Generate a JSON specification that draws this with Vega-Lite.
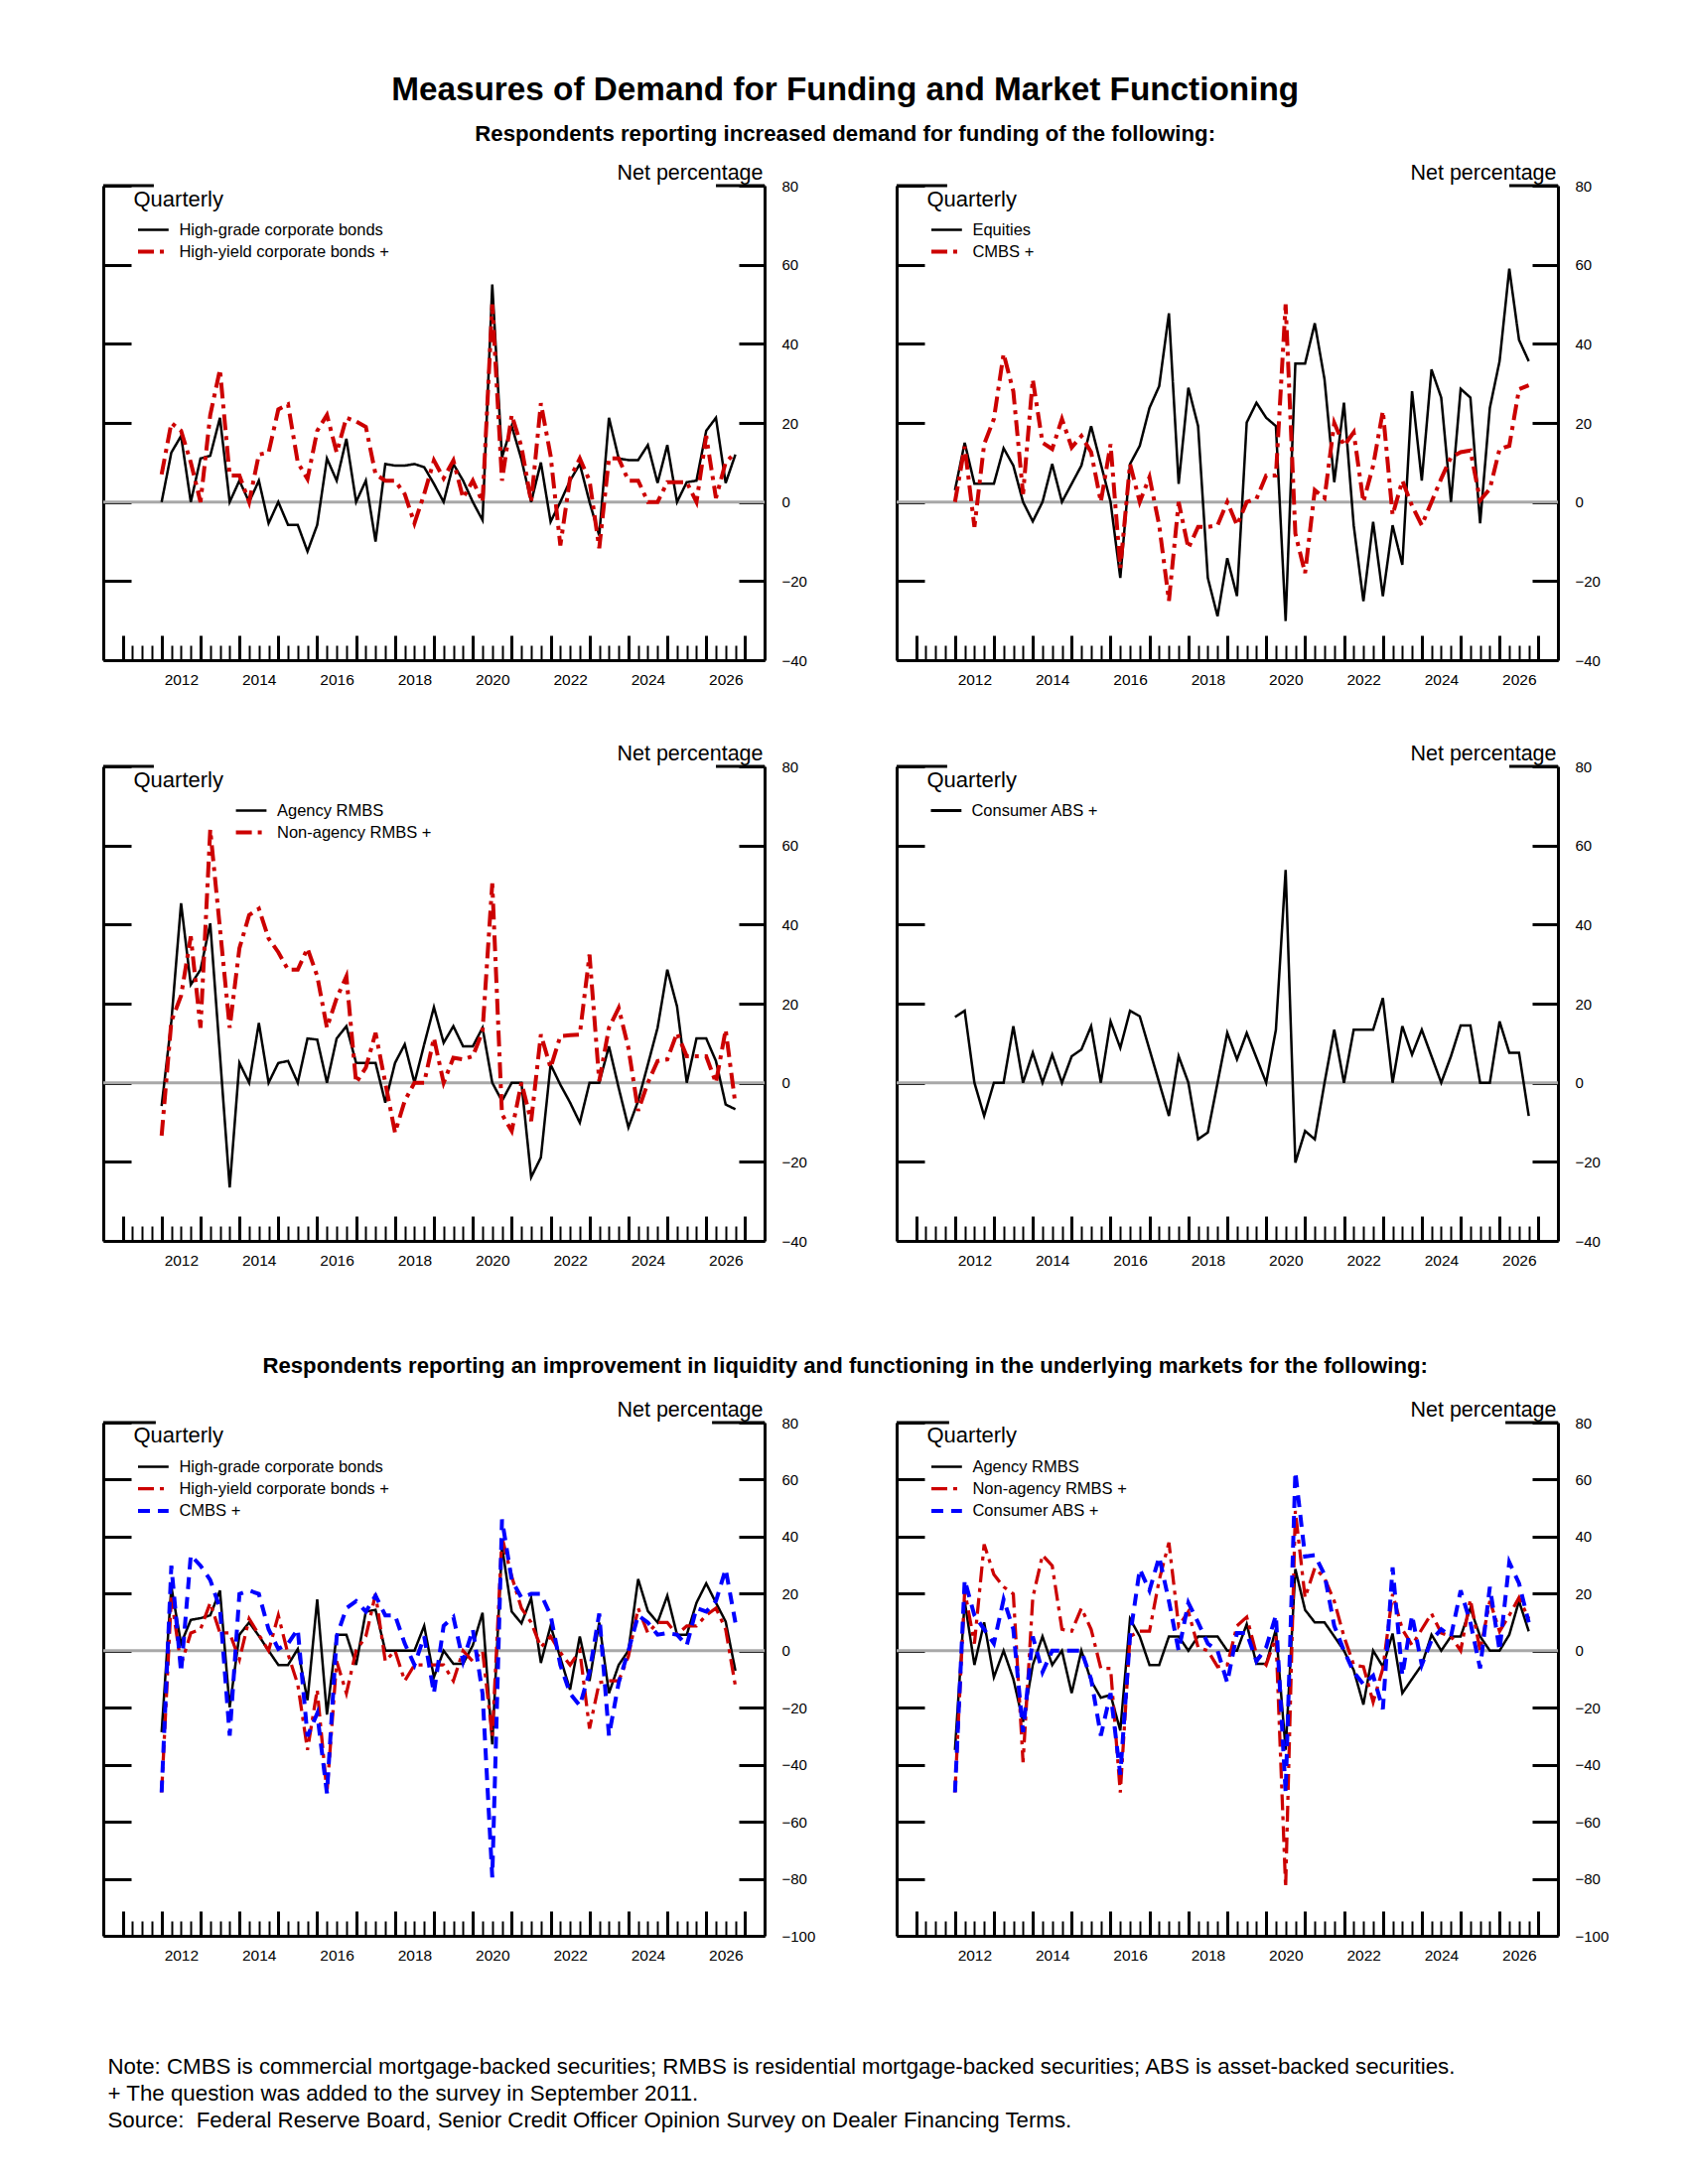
{
  "$schema": "https://vega.github.io/schema/vega-lite/v6.json",
  "background": "white",
  "padding": {"left": 102, "top": 73, "right": 20, "bottom": 20},
  "title": {
    "text": "Measures of Demand for Funding and Market Functioning",
    "subtitle": "Respondents reporting increased demand for funding of the following:",
    "fontSize": 33.3, "fontWeight": "bold", "color": "black",
    "subtitleFontSize": 22.2, "subtitleFontWeight": "bold", "subtitleColor": "black",
    "anchor": "middle", "subtitlePadding": 16, "offset": 16, "dx": -10
  },
  "datasets": {
    "a": [
      {"s":"1hg","t":2012,"v":0},{"s":"1hg","t":2012.25,"v":12.5},{"s":"1hg","t":2012.5,"v":16.7},{"s":"1hg","t":2012.75,"v":0},
      {"s":"1hg","t":2013,"v":11},{"s":"1hg","t":2013.25,"v":11.7},{"s":"1hg","t":2013.5,"v":21.3},{"s":"1hg","t":2013.75,"v":0},
      {"s":"1hg","t":2014,"v":5.4},{"s":"1hg","t":2014.25,"v":0},{"s":"1hg","t":2014.5,"v":5.4},{"s":"1hg","t":2014.75,"v":-5.4},
      {"s":"1hg","t":2015,"v":0},{"s":"1hg","t":2015.25,"v":-5.8},{"s":"1hg","t":2015.5,"v":-5.8},{"s":"1hg","t":2015.75,"v":-12.5},
      {"s":"1hg","t":2016,"v":-5.8},{"s":"1hg","t":2016.25,"v":11},{"s":"1hg","t":2016.5,"v":5.4},{"s":"1hg","t":2016.75,"v":16},
      {"s":"1hg","t":2017,"v":0},{"s":"1hg","t":2017.25,"v":5.4},{"s":"1hg","t":2017.5,"v":-10},{"s":"1hg","t":2017.75,"v":9.6},
      {"s":"1hg","t":2018,"v":9.2},{"s":"1hg","t":2018.25,"v":9.2},{"s":"1hg","t":2018.5,"v":9.6},{"s":"1hg","t":2018.75,"v":8.8},
      {"s":"1hg","t":2019,"v":4.6},{"s":"1hg","t":2019.25,"v":0},{"s":"1hg","t":2019.5,"v":9.6},{"s":"1hg","t":2019.75,"v":5.4},
      {"s":"1hg","t":2020,"v":0},{"s":"1hg","t":2020.25,"v":-4.6},{"s":"1hg","t":2020.5,"v":55},{"s":"1hg","t":2020.75,"v":11.3},
      {"s":"1hg","t":2021,"v":19.2},{"s":"1hg","t":2021.25,"v":10.8},{"s":"1hg","t":2021.5,"v":0},{"s":"1hg","t":2021.75,"v":10},
      {"s":"1hg","t":2022,"v":-5},{"s":"1hg","t":2022.25,"v":0},{"s":"1hg","t":2022.5,"v":5.4},{"s":"1hg","t":2022.75,"v":9.6},
      {"s":"1hg","t":2023,"v":0},{"s":"1hg","t":2023.25,"v":-8.5},{"s":"1hg","t":2023.5,"v":21.3},{"s":"1hg","t":2023.75,"v":11},
      {"s":"1hg","t":2024,"v":10.6},{"s":"1hg","t":2024.25,"v":10.6},{"s":"1hg","t":2024.5,"v":14.4},{"s":"1hg","t":2024.75,"v":4.8},
      {"s":"1hg","t":2025,"v":14.4},{"s":"1hg","t":2025.25,"v":0},{"s":"1hg","t":2025.5,"v":5},{"s":"1hg","t":2025.75,"v":5.4},
      {"s":"1hg","t":2026,"v":18},{"s":"1hg","t":2026.25,"v":21.3},{"s":"1hg","t":2026.5,"v":4.8},{"s":"1hg","t":2026.75,"v":12},
      {"s":"2hy","t":2012,"v":7},{"s":"2hy","t":2012.25,"v":20},{"s":"2hy","t":2012.5,"v":18},{"s":"2hy","t":2012.75,"v":10},
      {"s":"2hy","t":2013,"v":0},{"s":"2hy","t":2013.25,"v":22},{"s":"2hy","t":2013.5,"v":33.5},{"s":"2hy","t":2013.75,"v":6.7},
      {"s":"2hy","t":2014,"v":6.7},{"s":"2hy","t":2014.25,"v":0},{"s":"2hy","t":2014.5,"v":12},{"s":"2hy","t":2014.75,"v":12.5},
      {"s":"2hy","t":2015,"v":23.4},{"s":"2hy","t":2015.25,"v":24.7},{"s":"2hy","t":2015.5,"v":10},{"s":"2hy","t":2015.75,"v":5.8},
      {"s":"2hy","t":2016,"v":18},{"s":"2hy","t":2016.25,"v":22},{"s":"2hy","t":2016.5,"v":12.5},{"s":"2hy","t":2016.75,"v":21.3},
      {"s":"2hy","t":2017,"v":20.4},{"s":"2hy","t":2017.25,"v":19},{"s":"2hy","t":2017.5,"v":7},{"s":"2hy","t":2017.75,"v":5.4},
      {"s":"2hy","t":2018,"v":5.4},{"s":"2hy","t":2018.25,"v":2},{"s":"2hy","t":2018.5,"v":-5.4},{"s":"2hy","t":2018.75,"v":2},
      {"s":"2hy","t":2019,"v":10.5},{"s":"2hy","t":2019.25,"v":6},{"s":"2hy","t":2019.5,"v":10.5},{"s":"2hy","t":2019.75,"v":1},
      {"s":"2hy","t":2020,"v":5.4},{"s":"2hy","t":2020.25,"v":0},{"s":"2hy","t":2020.5,"v":50},{"s":"2hy","t":2020.75,"v":5.4},
      {"s":"2hy","t":2021,"v":22},{"s":"2hy","t":2021.25,"v":14},{"s":"2hy","t":2021.5,"v":0},{"s":"2hy","t":2021.75,"v":25},
      {"s":"2hy","t":2022,"v":11.7},{"s":"2hy","t":2022.25,"v":-11},{"s":"2hy","t":2022.5,"v":6},{"s":"2hy","t":2022.75,"v":11},
      {"s":"2hy","t":2023,"v":5.4},{"s":"2hy","t":2023.25,"v":-11.7},{"s":"2hy","t":2023.5,"v":11},{"s":"2hy","t":2023.75,"v":11},
      {"s":"2hy","t":2024,"v":5.4},{"s":"2hy","t":2024.25,"v":5.4},{"s":"2hy","t":2024.5,"v":0},{"s":"2hy","t":2024.75,"v":0},
      {"s":"2hy","t":2025,"v":5},{"s":"2hy","t":2025.25,"v":5},{"s":"2hy","t":2025.5,"v":5},{"s":"2hy","t":2025.75,"v":0},
      {"s":"2hy","t":2026,"v":16.7},{"s":"2hy","t":2026.25,"v":1},{"s":"2hy","t":2026.5,"v":10},{"s":"2hy","t":2026.75,"v":12.5}
    ],
    "b": [
      {"s":"1eq","t":2012,"v":3},{"s":"1eq","t":2012.25,"v":15},{"s":"1eq","t":2012.5,"v":4.6},{"s":"1eq","t":2012.75,"v":4.6},
      {"s":"1eq","t":2013,"v":4.6},{"s":"1eq","t":2013.25,"v":13.6},{"s":"1eq","t":2013.5,"v":9.2},{"s":"1eq","t":2013.75,"v":0},
      {"s":"1eq","t":2014,"v":-4.9},{"s":"1eq","t":2014.25,"v":0},{"s":"1eq","t":2014.5,"v":9.6},{"s":"1eq","t":2014.75,"v":0},
      {"s":"1eq","t":2015,"v":4.6},{"s":"1eq","t":2015.25,"v":9.2},{"s":"1eq","t":2015.5,"v":19.2},{"s":"1eq","t":2015.75,"v":9.6},
      {"s":"1eq","t":2016,"v":0},{"s":"1eq","t":2016.25,"v":-19.2},{"s":"1eq","t":2016.5,"v":9.6},{"s":"1eq","t":2016.75,"v":14.2},
      {"s":"1eq","t":2017,"v":23.8},{"s":"1eq","t":2017.25,"v":29.3},{"s":"1eq","t":2017.5,"v":47.7},{"s":"1eq","t":2017.75,"v":4.6},
      {"s":"1eq","t":2018,"v":28.9},{"s":"1eq","t":2018.25,"v":19.2},{"s":"1eq","t":2018.5,"v":-19.2},{"s":"1eq","t":2018.75,"v":-28.9},
      {"s":"1eq","t":2019,"v":-14.2},{"s":"1eq","t":2019.25,"v":-23.8},{"s":"1eq","t":2019.5,"v":20.1},{"s":"1eq","t":2019.75,"v":25.1},
      {"s":"1eq","t":2020,"v":21.3},{"s":"1eq","t":2020.25,"v":19.2},{"s":"1eq","t":2020.5,"v":-30.1},{"s":"1eq","t":2020.75,"v":35},
      {"s":"1eq","t":2021,"v":35},{"s":"1eq","t":2021.25,"v":45.2},{"s":"1eq","t":2021.5,"v":31},{"s":"1eq","t":2021.75,"v":5},
      {"s":"1eq","t":2022,"v":25.1},{"s":"1eq","t":2022.25,"v":-5.9},{"s":"1eq","t":2022.5,"v":-25.1},{"s":"1eq","t":2022.75,"v":-5},
      {"s":"1eq","t":2023,"v":-23.8},{"s":"1eq","t":2023.25,"v":-5.9},{"s":"1eq","t":2023.5,"v":-15.9},{"s":"1eq","t":2023.75,"v":28},
      {"s":"1eq","t":2024,"v":5.4},{"s":"1eq","t":2024.25,"v":33.5},{"s":"1eq","t":2024.5,"v":26.4},{"s":"1eq","t":2024.75,"v":0},
      {"s":"1eq","t":2025,"v":28.6},{"s":"1eq","t":2025.25,"v":26.4},{"s":"1eq","t":2025.5,"v":-5.4},{"s":"1eq","t":2025.75,"v":23.8},
      {"s":"1eq","t":2026,"v":35.6},{"s":"1eq","t":2026.25,"v":59},{"s":"1eq","t":2026.5,"v":41},{"s":"1eq","t":2026.75,"v":35.6},
      {"s":"2cm","t":2012,"v":0},{"s":"2cm","t":2012.25,"v":14},{"s":"2cm","t":2012.5,"v":-6.3},{"s":"2cm","t":2012.75,"v":14.6},
      {"s":"2cm","t":2013,"v":21},{"s":"2cm","t":2013.25,"v":37.5},{"s":"2cm","t":2013.5,"v":28},{"s":"2cm","t":2013.75,"v":2},
      {"s":"2cm","t":2014,"v":31},{"s":"2cm","t":2014.25,"v":15},{"s":"2cm","t":2014.5,"v":13.4},{"s":"2cm","t":2014.75,"v":21},
      {"s":"2cm","t":2015,"v":13.8},{"s":"2cm","t":2015.25,"v":16.7},{"s":"2cm","t":2015.5,"v":12.6},{"s":"2cm","t":2015.75,"v":0},
      {"s":"2cm","t":2016,"v":14.6},{"s":"2cm","t":2016.25,"v":-16.7},{"s":"2cm","t":2016.5,"v":9.6},{"s":"2cm","t":2016.75,"v":0},
      {"s":"2cm","t":2017,"v":6.3},{"s":"2cm","t":2017.25,"v":-5.9},{"s":"2cm","t":2017.5,"v":-25},{"s":"2cm","t":2017.75,"v":0},
      {"s":"2cm","t":2018,"v":-11.7},{"s":"2cm","t":2018.25,"v":-6.3},{"s":"2cm","t":2018.5,"v":-6.3},{"s":"2cm","t":2018.75,"v":-5.9},
      {"s":"2cm","t":2019,"v":0},{"s":"2cm","t":2019.25,"v":-5.9},{"s":"2cm","t":2019.5,"v":0},{"s":"2cm","t":2019.75,"v":0.8},
      {"s":"2cm","t":2020,"v":6.7},{"s":"2cm","t":2020.25,"v":6.7},{"s":"2cm","t":2020.5,"v":50},{"s":"2cm","t":2020.75,"v":-8},
      {"s":"2cm","t":2021,"v":-18},{"s":"2cm","t":2021.25,"v":3},{"s":"2cm","t":2021.5,"v":1},{"s":"2cm","t":2021.75,"v":20},
      {"s":"2cm","t":2022,"v":14.2},{"s":"2cm","t":2022.25,"v":17.6},{"s":"2cm","t":2022.5,"v":0},{"s":"2cm","t":2022.75,"v":9.2},
      {"s":"2cm","t":2023,"v":23},{"s":"2cm","t":2023.25,"v":-3.3},{"s":"2cm","t":2023.5,"v":5.4},{"s":"2cm","t":2023.75,"v":-1},
      {"s":"2cm","t":2024,"v":-5.9},{"s":"2cm","t":2024.25,"v":0},{"s":"2cm","t":2024.5,"v":5.9},{"s":"2cm","t":2024.75,"v":11.3},
      {"s":"2cm","t":2025,"v":12.6},{"s":"2cm","t":2025.25,"v":13},{"s":"2cm","t":2025.5,"v":0.4},{"s":"2cm","t":2025.75,"v":3.3},
      {"s":"2cm","t":2026,"v":13.4},{"s":"2cm","t":2026.25,"v":14.2},{"s":"2cm","t":2026.5,"v":28.5},{"s":"2cm","t":2026.75,"v":29.5}
    ],
    "c": [
      {"s":"1ag","t":2012,"v":-5.9},{"s":"1ag","t":2012.25,"v":15.5},{"s":"1ag","t":2012.5,"v":45.4},{"s":"1ag","t":2012.75,"v":24.8},
      {"s":"1ag","t":2013,"v":28.6},{"s":"1ag","t":2013.25,"v":40.3},{"s":"1ag","t":2013.5,"v":7},{"s":"1ag","t":2013.75,"v":-26.5},
      {"s":"1ag","t":2014,"v":5},{"s":"1ag","t":2014.25,"v":0},{"s":"1ag","t":2014.5,"v":15.1},{"s":"1ag","t":2014.75,"v":0},
      {"s":"1ag","t":2015,"v":5},{"s":"1ag","t":2015.25,"v":5.5},{"s":"1ag","t":2015.5,"v":0},{"s":"1ag","t":2015.75,"v":11.2},
      {"s":"1ag","t":2016,"v":10.9},{"s":"1ag","t":2016.25,"v":0},{"s":"1ag","t":2016.5,"v":11.2},{"s":"1ag","t":2016.75,"v":14.3},
      {"s":"1ag","t":2017,"v":5},{"s":"1ag","t":2017.25,"v":5},{"s":"1ag","t":2017.5,"v":5},{"s":"1ag","t":2017.75,"v":-5},
      {"s":"1ag","t":2018,"v":5},{"s":"1ag","t":2018.25,"v":9.7},{"s":"1ag","t":2018.5,"v":0},{"s":"1ag","t":2018.75,"v":9.7},
      {"s":"1ag","t":2019,"v":19.1},{"s":"1ag","t":2019.25,"v":10.1},{"s":"1ag","t":2019.5,"v":14.3},{"s":"1ag","t":2019.75,"v":9.2},
      {"s":"1ag","t":2020,"v":9.2},{"s":"1ag","t":2020.25,"v":13.9},{"s":"1ag","t":2020.5,"v":0},{"s":"1ag","t":2020.75,"v":-4.6},
      {"s":"1ag","t":2021,"v":0},{"s":"1ag","t":2021.25,"v":0},{"s":"1ag","t":2021.5,"v":-23.9},{"s":"1ag","t":2021.75,"v":-18.9},
      {"s":"1ag","t":2022,"v":4.6},{"s":"1ag","t":2022.25,"v":-0.5},{"s":"1ag","t":2022.5,"v":-5},{"s":"1ag","t":2022.75,"v":-10.1},
      {"s":"1ag","t":2023,"v":0},{"s":"1ag","t":2023.25,"v":0},{"s":"1ag","t":2023.5,"v":9.2},{"s":"1ag","t":2023.75,"v":-1.3},
      {"s":"1ag","t":2024,"v":-11.3},{"s":"1ag","t":2024.25,"v":-4.6},{"s":"1ag","t":2024.5,"v":4.6},{"s":"1ag","t":2024.75,"v":13.9},
      {"s":"1ag","t":2025,"v":28.6},{"s":"1ag","t":2025.25,"v":19.3},{"s":"1ag","t":2025.5,"v":0},{"s":"1ag","t":2025.75,"v":11.2},
      {"s":"1ag","t":2026,"v":11.2},{"s":"1ag","t":2026.25,"v":5.5},{"s":"1ag","t":2026.5,"v":-5.5},{"s":"1ag","t":2026.75,"v":-6.7},
      {"s":"2na","t":2012,"v":-13.4},{"s":"2na","t":2012.25,"v":15.5},{"s":"2na","t":2012.5,"v":22},{"s":"2na","t":2012.75,"v":37},
      {"s":"2na","t":2013,"v":13.9},{"s":"2na","t":2013.25,"v":64},{"s":"2na","t":2013.5,"v":39},{"s":"2na","t":2013.75,"v":13.9},
      {"s":"2na","t":2014,"v":34},{"s":"2na","t":2014.25,"v":42.4},{"s":"2na","t":2014.5,"v":44},{"s":"2na","t":2014.75,"v":36.5},
      {"s":"2na","t":2015,"v":33},{"s":"2na","t":2015.25,"v":28.6},{"s":"2na","t":2015.5,"v":28.6},{"s":"2na","t":2015.75,"v":34},
      {"s":"2na","t":2016,"v":27},{"s":"2na","t":2016.25,"v":13.9},{"s":"2na","t":2016.5,"v":21.4},{"s":"2na","t":2016.75,"v":26.9},
      {"s":"2na","t":2017,"v":0},{"s":"2na","t":2017.25,"v":3.8},{"s":"2na","t":2017.5,"v":12.6},{"s":"2na","t":2017.75,"v":0},
      {"s":"2na","t":2018,"v":-12.6},{"s":"2na","t":2018.25,"v":-4.6},{"s":"2na","t":2018.5,"v":0},{"s":"2na","t":2018.75,"v":0},
      {"s":"2na","t":2019,"v":11.3},{"s":"2na","t":2019.25,"v":0},{"s":"2na","t":2019.5,"v":6.3},{"s":"2na","t":2019.75,"v":5.9},
      {"s":"2na","t":2020,"v":6.7},{"s":"2na","t":2020.25,"v":13},{"s":"2na","t":2020.5,"v":50.4},{"s":"2na","t":2020.75,"v":-8},
      {"s":"2na","t":2021,"v":-12.2},{"s":"2na","t":2021.25,"v":0},{"s":"2na","t":2021.5,"v":-9.7},{"s":"2na","t":2021.75,"v":12.2},
      {"s":"2na","t":2022,"v":3.8},{"s":"2na","t":2022.25,"v":11.8},{"s":"2na","t":2022.5,"v":12},{"s":"2na","t":2022.75,"v":12.2},
      {"s":"2na","t":2023,"v":32.4},{"s":"2na","t":2023.25,"v":0.4},{"s":"2na","t":2023.5,"v":13.9},{"s":"2na","t":2023.75,"v":18.9},
      {"s":"2na","t":2024,"v":8.8},{"s":"2na","t":2024.25,"v":-7.1},{"s":"2na","t":2024.5,"v":0},{"s":"2na","t":2024.75,"v":5.5},
      {"s":"2na","t":2025,"v":5.9},{"s":"2na","t":2025.25,"v":12.6},{"s":"2na","t":2025.5,"v":6.7},{"s":"2na","t":2025.75,"v":6.7},
      {"s":"2na","t":2026,"v":6.7},{"s":"2na","t":2026.25,"v":0},{"s":"2na","t":2026.5,"v":13.4},{"s":"2na","t":2026.75,"v":-5.5}
    ],
    "d": [
      {"s":"1ab","t":2012,"v":16.6},{"s":"1ab","t":2012.25,"v":18.2},{"s":"1ab","t":2012.5,"v":0},{"s":"1ab","t":2012.75,"v":-8.4},
      {"s":"1ab","t":2013,"v":0},{"s":"1ab","t":2013.25,"v":0},{"s":"1ab","t":2013.5,"v":14.3},{"s":"1ab","t":2013.75,"v":0},
      {"s":"1ab","t":2014,"v":7.6},{"s":"1ab","t":2014.25,"v":0},{"s":"1ab","t":2014.5,"v":7.1},{"s":"1ab","t":2014.75,"v":0},
      {"s":"1ab","t":2015,"v":6.7},{"s":"1ab","t":2015.25,"v":8.4},{"s":"1ab","t":2015.5,"v":14.3},{"s":"1ab","t":2015.75,"v":0},
      {"s":"1ab","t":2016,"v":15.5},{"s":"1ab","t":2016.25,"v":8.8},{"s":"1ab","t":2016.5,"v":18.2},{"s":"1ab","t":2016.75,"v":16.8},
      {"s":"1ab","t":2017,"v":8.4},{"s":"1ab","t":2017.25,"v":0},{"s":"1ab","t":2017.5,"v":-8.4},{"s":"1ab","t":2017.75,"v":6.7},
      {"s":"1ab","t":2018,"v":0},{"s":"1ab","t":2018.25,"v":-14.3},{"s":"1ab","t":2018.5,"v":-12.6},{"s":"1ab","t":2018.75,"v":0},
      {"s":"1ab","t":2019,"v":12.6},{"s":"1ab","t":2019.25,"v":5.9},{"s":"1ab","t":2019.5,"v":12.6},{"s":"1ab","t":2019.75,"v":6.3},
      {"s":"1ab","t":2020,"v":0},{"s":"1ab","t":2020.25,"v":13.4},{"s":"1ab","t":2020.5,"v":53.8},{"s":"1ab","t":2020.75,"v":-20.2},
      {"s":"1ab","t":2021,"v":-12.2},{"s":"1ab","t":2021.25,"v":-14.3},{"s":"1ab","t":2021.5,"v":0},{"s":"1ab","t":2021.75,"v":13.4},
      {"s":"1ab","t":2022,"v":0},{"s":"1ab","t":2022.25,"v":13.4},{"s":"1ab","t":2022.5,"v":13.4},{"s":"1ab","t":2022.75,"v":13.4},
      {"s":"1ab","t":2023,"v":21.4},{"s":"1ab","t":2023.25,"v":0},{"s":"1ab","t":2023.5,"v":14.3},{"s":"1ab","t":2023.75,"v":7.1},
      {"s":"1ab","t":2024,"v":13.4},{"s":"1ab","t":2024.25,"v":6.7},{"s":"1ab","t":2024.5,"v":0},{"s":"1ab","t":2024.75,"v":6.7},
      {"s":"1ab","t":2025,"v":14.5},{"s":"1ab","t":2025.25,"v":14.5},{"s":"1ab","t":2025.5,"v":0},{"s":"1ab","t":2025.75,"v":0},
      {"s":"1ab","t":2026,"v":15.5},{"s":"1ab","t":2026.25,"v":7.6},{"s":"1ab","t":2026.5,"v":7.6},{"s":"1ab","t":2026.75,"v":-8.4}
    ],
    "e": [
      {"s":"1hg","t":2012,"v":-28.6},{"s":"1hg","t":2012.25,"v":22.4},{"s":"1hg","t":2012.5,"v":2.5},{"s":"1hg","t":2012.75,"v":10.8},
      {"s":"1hg","t":2013,"v":11.4},{"s":"1hg","t":2013.25,"v":12.4},{"s":"1hg","t":2013.5,"v":21.1},{"s":"1hg","t":2013.75,"v":-19.9},
      {"s":"1hg","t":2014,"v":5.6},{"s":"1hg","t":2014.25,"v":9.9},{"s":"1hg","t":2014.5,"v":5.2},{"s":"1hg","t":2014.75,"v":0},
      {"s":"1hg","t":2015,"v":-5},{"s":"1hg","t":2015.25,"v":-5},{"s":"1hg","t":2015.5,"v":0.6},{"s":"1hg","t":2015.75,"v":-17.4},
      {"s":"1hg","t":2016,"v":18},{"s":"1hg","t":2016.25,"v":-22.4},{"s":"1hg","t":2016.5,"v":5.6},{"s":"1hg","t":2016.75,"v":5.6},
      {"s":"1hg","t":2017,"v":-5},{"s":"1hg","t":2017.25,"v":13.7},{"s":"1hg","t":2017.5,"v":14.3},{"s":"1hg","t":2017.75,"v":0},
      {"s":"1hg","t":2018,"v":0},{"s":"1hg","t":2018.25,"v":0},{"s":"1hg","t":2018.5,"v":0},{"s":"1hg","t":2018.75,"v":8.7},
      {"s":"1hg","t":2019,"v":-9.3},{"s":"1hg","t":2019.25,"v":0},{"s":"1hg","t":2019.5,"v":-4.6},{"s":"1hg","t":2019.75,"v":-4.6},
      {"s":"1hg","t":2020,"v":1.9},{"s":"1hg","t":2020.25,"v":13.3},{"s":"1hg","t":2020.5,"v":-32.9},{"s":"1hg","t":2020.75,"v":36.6},
      {"s":"1hg","t":2021,"v":13.7},{"s":"1hg","t":2021.25,"v":9.6},{"s":"1hg","t":2021.5,"v":18.4},{"s":"1hg","t":2021.75,"v":-4.3},
      {"s":"1hg","t":2022,"v":8.7},{"s":"1hg","t":2022.25,"v":-2.5},{"s":"1hg","t":2022.5,"v":-13.7},{"s":"1hg","t":2022.75,"v":5},
      {"s":"1hg","t":2023,"v":-10.6},{"s":"1hg","t":2023.25,"v":9.9},{"s":"1hg","t":2023.5,"v":-14.9},{"s":"1hg","t":2023.75,"v":-5},
      {"s":"1hg","t":2024,"v":0},{"s":"1hg","t":2024.25,"v":25.1},{"s":"1hg","t":2024.5,"v":13.9},{"s":"1hg","t":2024.75,"v":9.9},
      {"s":"1hg","t":2025,"v":19.3},{"s":"1hg","t":2025.25,"v":5.6},{"s":"1hg","t":2025.5,"v":5.6},{"s":"1hg","t":2025.75,"v":16.8},
      {"s":"1hg","t":2026,"v":23.6},{"s":"1hg","t":2026.25,"v":16.8},{"s":"1hg","t":2026.5,"v":10.2},{"s":"1hg","t":2026.75,"v":-7},
      {"s":"2hy","t":2012,"v":-49.7},{"s":"2hy","t":2012.25,"v":18.6},{"s":"2hy","t":2012.5,"v":-5},{"s":"2hy","t":2012.75,"v":6.2},
      {"s":"2hy","t":2013,"v":7.5},{"s":"2hy","t":2013.25,"v":16.8},{"s":"2hy","t":2013.5,"v":6.2},{"s":"2hy","t":2013.75,"v":6.2},
      {"s":"2hy","t":2014,"v":-3.1},{"s":"2hy","t":2014.25,"v":11.2},{"s":"2hy","t":2014.5,"v":5.6},{"s":"2hy","t":2014.75,"v":0},
      {"s":"2hy","t":2015,"v":12.4},{"s":"2hy","t":2015.25,"v":-1.2},{"s":"2hy","t":2015.5,"v":-11.8},{"s":"2hy","t":2015.75,"v":-34.8},
      {"s":"2hy","t":2016,"v":-13.7},{"s":"2hy","t":2016.25,"v":-49.7},{"s":"2hy","t":2016.5,"v":-3.7},{"s":"2hy","t":2016.75,"v":-14.9},
      {"s":"2hy","t":2017,"v":0},{"s":"2hy","t":2017.25,"v":5},{"s":"2hy","t":2017.5,"v":19.9},{"s":"2hy","t":2017.75,"v":-3.7},
      {"s":"2hy","t":2018,"v":0},{"s":"2hy","t":2018.25,"v":-10.6},{"s":"2hy","t":2018.5,"v":-5},{"s":"2hy","t":2018.75,"v":-5},
      {"s":"2hy","t":2019,"v":-5},{"s":"2hy","t":2019.25,"v":-5},{"s":"2hy","t":2019.5,"v":-10.6},{"s":"2hy","t":2019.75,"v":0},
      {"s":"2hy","t":2020,"v":-3.7},{"s":"2hy","t":2020.25,"v":0},{"s":"2hy","t":2020.5,"v":-30},{"s":"2hy","t":2020.75,"v":39.8},
      {"s":"2hy","t":2021,"v":26},{"s":"2hy","t":2021.25,"v":14.9},{"s":"2hy","t":2021.5,"v":9.9},{"s":"2hy","t":2021.75,"v":1.2},
      {"s":"2hy","t":2022,"v":5},{"s":"2hy","t":2022.25,"v":-0.6},{"s":"2hy","t":2022.5,"v":-5},{"s":"2hy","t":2022.75,"v":0},
      {"s":"2hy","t":2023,"v":-27.3},{"s":"2hy","t":2023.25,"v":-11.2},{"s":"2hy","t":2023.5,"v":-10.6},{"s":"2hy","t":2023.75,"v":-10.6},
      {"s":"2hy","t":2024,"v":-2},{"s":"2hy","t":2024.25,"v":14.9},{"s":"2hy","t":2024.5,"v":6.2},{"s":"2hy","t":2024.75,"v":9.9},
      {"s":"2hy","t":2025,"v":9.9},{"s":"2hy","t":2025.25,"v":5.6},{"s":"2hy","t":2025.5,"v":8.7},{"s":"2hy","t":2025.75,"v":8.7},
      {"s":"2hy","t":2026,"v":12.4},{"s":"2hy","t":2026.25,"v":14.9},{"s":"2hy","t":2026.5,"v":7.5},{"s":"2hy","t":2026.75,"v":-12.4},
      {"s":"3cm","t":2012,"v":-49.7},{"s":"3cm","t":2012.25,"v":29.8},{"s":"3cm","t":2012.5,"v":-7.5},{"s":"3cm","t":2012.75,"v":33.5},
      {"s":"3cm","t":2013,"v":29.8},{"s":"3cm","t":2013.25,"v":24.8},{"s":"3cm","t":2013.5,"v":14.9},{"s":"3cm","t":2013.75,"v":-29.8},
      {"s":"3cm","t":2014,"v":19.9},{"s":"3cm","t":2014.25,"v":21.1},{"s":"3cm","t":2014.5,"v":19.9},{"s":"3cm","t":2014.75,"v":7.5},
      {"s":"3cm","t":2015,"v":0.6},{"s":"3cm","t":2015.25,"v":2.5},{"s":"3cm","t":2015.5,"v":7.5},{"s":"3cm","t":2015.75,"v":-30},
      {"s":"3cm","t":2016,"v":-22},{"s":"3cm","t":2016.25,"v":-50},{"s":"3cm","t":2016.5,"v":5},{"s":"3cm","t":2016.75,"v":14.9},
      {"s":"3cm","t":2017,"v":17.4},{"s":"3cm","t":2017.25,"v":13.7},{"s":"3cm","t":2017.5,"v":19.3},{"s":"3cm","t":2017.75,"v":12.4},
      {"s":"3cm","t":2018,"v":12.4},{"s":"3cm","t":2018.25,"v":2.5},{"s":"3cm","t":2018.5,"v":-5},{"s":"3cm","t":2018.75,"v":5},
      {"s":"3cm","t":2019,"v":-14.9},{"s":"3cm","t":2019.25,"v":8.7},{"s":"3cm","t":2019.5,"v":11.8},{"s":"3cm","t":2019.75,"v":-3.7},
      {"s":"3cm","t":2020,"v":7.5},{"s":"3cm","t":2020.25,"v":-15},{"s":"3cm","t":2020.5,"v":-79.5},{"s":"3cm","t":2020.75,"v":46},
      {"s":"3cm","t":2021,"v":24.8},{"s":"3cm","t":2021.25,"v":18.6},{"s":"3cm","t":2021.5,"v":19.9},{"s":"3cm","t":2021.75,"v":19.9},
      {"s":"3cm","t":2022,"v":12.4},{"s":"3cm","t":2022.25,"v":-5},{"s":"3cm","t":2022.5,"v":-15},{"s":"3cm","t":2022.75,"v":-19.3},
      {"s":"3cm","t":2023,"v":-7.5},{"s":"3cm","t":2023.25,"v":13},{"s":"3cm","t":2023.5,"v":-29.8},{"s":"3cm","t":2023.75,"v":-11.2},
      {"s":"3cm","t":2024,"v":0},{"s":"3cm","t":2024.25,"v":12.4},{"s":"3cm","t":2024.5,"v":9.9},{"s":"3cm","t":2024.75,"v":5.6},
      {"s":"3cm","t":2025,"v":6.2},{"s":"3cm","t":2025.25,"v":5.6},{"s":"3cm","t":2025.5,"v":1.9},{"s":"3cm","t":2025.75,"v":14.9},
      {"s":"3cm","t":2026,"v":13.7},{"s":"3cm","t":2026.25,"v":17.4},{"s":"3cm","t":2026.5,"v":28.6},{"s":"3cm","t":2026.75,"v":9.9}
    ],
    "f": [
      {"s":"1ag","t":2012,"v":-34.8},{"s":"1ag","t":2012.25,"v":17.4},{"s":"1ag","t":2012.5,"v":-5},{"s":"1ag","t":2012.75,"v":9.9},
      {"s":"1ag","t":2013,"v":-9.3},{"s":"1ag","t":2013.25,"v":0},{"s":"1ag","t":2013.5,"v":-9.9},{"s":"1ag","t":2013.75,"v":-25},
      {"s":"1ag","t":2014,"v":-5},{"s":"1ag","t":2014.25,"v":5},{"s":"1ag","t":2014.5,"v":-5},{"s":"1ag","t":2014.75,"v":0},
      {"s":"1ag","t":2015,"v":-14.9},{"s":"1ag","t":2015.25,"v":0},{"s":"1ag","t":2015.5,"v":-10.6},{"s":"1ag","t":2015.75,"v":-16.5},
      {"s":"1ag","t":2016,"v":-15.5},{"s":"1ag","t":2016.25,"v":-28},{"s":"1ag","t":2016.5,"v":11.2},{"s":"1ag","t":2016.75,"v":5},
      {"s":"1ag","t":2017,"v":-5},{"s":"1ag","t":2017.25,"v":-5},{"s":"1ag","t":2017.5,"v":5},{"s":"1ag","t":2017.75,"v":5},
      {"s":"1ag","t":2018,"v":0},{"s":"1ag","t":2018.25,"v":5},{"s":"1ag","t":2018.5,"v":5},{"s":"1ag","t":2018.75,"v":5},
      {"s":"1ag","t":2019,"v":0},{"s":"1ag","t":2019.25,"v":0},{"s":"1ag","t":2019.5,"v":9.3},{"s":"1ag","t":2019.75,"v":-4.6},
      {"s":"1ag","t":2020,"v":-4.6},{"s":"1ag","t":2020.25,"v":7.5},{"s":"1ag","t":2020.5,"v":-34.8},{"s":"1ag","t":2020.75,"v":28.6},
      {"s":"1ag","t":2021,"v":14.3},{"s":"1ag","t":2021.25,"v":9.9},{"s":"1ag","t":2021.5,"v":9.9},{"s":"1ag","t":2021.75,"v":5},
      {"s":"1ag","t":2022,"v":0},{"s":"1ag","t":2022.25,"v":-6.8},{"s":"1ag","t":2022.5,"v":-18.9},{"s":"1ag","t":2022.75,"v":0},
      {"s":"1ag","t":2023,"v":-5.6},{"s":"1ag","t":2023.25,"v":6},{"s":"1ag","t":2023.5,"v":-14.9},{"s":"1ag","t":2023.75,"v":-9.9},
      {"s":"1ag","t":2024,"v":-5},{"s":"1ag","t":2024.25,"v":5.6},{"s":"1ag","t":2024.5,"v":0},{"s":"1ag","t":2024.75,"v":5},
      {"s":"1ag","t":2025,"v":5},{"s":"1ag","t":2025.25,"v":14.9},{"s":"1ag","t":2025.5,"v":5},{"s":"1ag","t":2025.75,"v":0},
      {"s":"1ag","t":2026,"v":0},{"s":"1ag","t":2026.25,"v":5.6},{"s":"1ag","t":2026.5,"v":17.4},{"s":"1ag","t":2026.75,"v":6.8},
      {"s":"2na","t":2012,"v":-49.7},{"s":"2na","t":2012.25,"v":21.1},{"s":"2na","t":2012.5,"v":2.5},{"s":"2na","t":2012.75,"v":37.3},
      {"s":"2na","t":2013,"v":26.7},{"s":"2na","t":2013.25,"v":22.4},{"s":"2na","t":2013.5,"v":19.9},{"s":"2na","t":2013.75,"v":-39.1},
      {"s":"2na","t":2014,"v":18.6},{"s":"2na","t":2014.25,"v":33.5},{"s":"2na","t":2014.5,"v":29.8},{"s":"2na","t":2014.75,"v":7.5},
      {"s":"2na","t":2015,"v":6.8},{"s":"2na","t":2015.25,"v":14.9},{"s":"2na","t":2015.5,"v":7.5},{"s":"2na","t":2015.75,"v":-6.2},
      {"s":"2na","t":2016,"v":-6.2},{"s":"2na","t":2016.25,"v":-49.7},{"s":"2na","t":2016.5,"v":5},{"s":"2na","t":2016.75,"v":6.8},
      {"s":"2na","t":2017,"v":6.8},{"s":"2na","t":2017.25,"v":24.8},{"s":"2na","t":2017.5,"v":37.9},{"s":"2na","t":2017.75,"v":8.7},
      {"s":"2na","t":2018,"v":13.7},{"s":"2na","t":2018.25,"v":1.2},{"s":"2na","t":2018.5,"v":0},{"s":"2na","t":2018.75,"v":-5.6},
      {"s":"2na","t":2019,"v":-5},{"s":"2na","t":2019.25,"v":8.7},{"s":"2na","t":2019.5,"v":11.8},{"s":"2na","t":2019.75,"v":-1.2},
      {"s":"2na","t":2020,"v":-5},{"s":"2na","t":2020.25,"v":5},{"s":"2na","t":2020.5,"v":-83},{"s":"2na","t":2020.75,"v":49},
      {"s":"2na","t":2021,"v":18.6},{"s":"2na","t":2021.25,"v":29},{"s":"2na","t":2021.5,"v":25.5},{"s":"2na","t":2021.75,"v":17.4},
      {"s":"2na","t":2022,"v":5},{"s":"2na","t":2022.25,"v":-5},{"s":"2na","t":2022.5,"v":-5.6},{"s":"2na","t":2022.75,"v":-18},
      {"s":"2na","t":2023,"v":-6.2},{"s":"2na","t":2023.25,"v":19.9},{"s":"2na","t":2023.5,"v":7.5},{"s":"2na","t":2023.75,"v":1.9},
      {"s":"2na","t":2024,"v":7.5},{"s":"2na","t":2024.25,"v":13},{"s":"2na","t":2024.5,"v":6.2},{"s":"2na","t":2024.75,"v":5},
      {"s":"2na","t":2025,"v":0},{"s":"2na","t":2025.25,"v":18},{"s":"2na","t":2025.5,"v":0},{"s":"2na","t":2025.75,"v":17.4},
      {"s":"2na","t":2026,"v":6.8},{"s":"2na","t":2026.25,"v":12.4},{"s":"2na","t":2026.5,"v":18.6},{"s":"2na","t":2026.75,"v":11.2},
      {"s":"3ab","t":2012,"v":-49.7},{"s":"3ab","t":2012.25,"v":24.8},{"s":"3ab","t":2012.5,"v":12.4},{"s":"3ab","t":2012.75,"v":7.5},
      {"s":"3ab","t":2013,"v":2.5},{"s":"3ab","t":2013.25,"v":18},{"s":"3ab","t":2013.5,"v":7.5},{"s":"3ab","t":2013.75,"v":-28.6},
      {"s":"3ab","t":2014,"v":5},{"s":"3ab","t":2014.25,"v":-7.5},{"s":"3ab","t":2014.5,"v":0},{"s":"3ab","t":2014.75,"v":0},
      {"s":"3ab","t":2015,"v":0},{"s":"3ab","t":2015.25,"v":0},{"s":"3ab","t":2015.5,"v":-10},{"s":"3ab","t":2015.75,"v":-29.8},
      {"s":"3ab","t":2016,"v":-14.9},{"s":"3ab","t":2016.25,"v":-43.5},{"s":"3ab","t":2016.5,"v":5},{"s":"3ab","t":2016.75,"v":28.6},
      {"s":"3ab","t":2017,"v":21.1},{"s":"3ab","t":2017.25,"v":32.9},{"s":"3ab","t":2017.5,"v":17.4},{"s":"3ab","t":2017.75,"v":0},
      {"s":"3ab","t":2018,"v":16.8},{"s":"3ab","t":2018.25,"v":9.9},{"s":"3ab","t":2018.5,"v":2.5},{"s":"3ab","t":2018.75,"v":0},
      {"s":"3ab","t":2019,"v":-11.2},{"s":"3ab","t":2019.25,"v":6.2},{"s":"3ab","t":2019.5,"v":6.2},{"s":"3ab","t":2019.75,"v":-3.7},
      {"s":"3ab","t":2020,"v":1.2},{"s":"3ab","t":2020.25,"v":12.4},{"s":"3ab","t":2020.5,"v":-49.7},{"s":"3ab","t":2020.75,"v":62.7},
      {"s":"3ab","t":2021,"v":33},{"s":"3ab","t":2021.25,"v":33.5},{"s":"3ab","t":2021.5,"v":26.7},{"s":"3ab","t":2021.75,"v":8.7},
      {"s":"3ab","t":2022,"v":0},{"s":"3ab","t":2022.25,"v":-7.5},{"s":"3ab","t":2022.5,"v":-11.8},{"s":"3ab","t":2022.75,"v":-8.7},
      {"s":"3ab","t":2023,"v":-20.5},{"s":"3ab","t":2023.25,"v":29.2},{"s":"3ab","t":2023.5,"v":-8.7},{"s":"3ab","t":2023.75,"v":12.4},
      {"s":"3ab","t":2024,"v":-5},{"s":"3ab","t":2024.25,"v":3.7},{"s":"3ab","t":2024.5,"v":7.5},{"s":"3ab","t":2024.75,"v":5},
      {"s":"3ab","t":2025,"v":21.1},{"s":"3ab","t":2025.25,"v":9.9},{"s":"3ab","t":2025.5,"v":-6.2},{"s":"3ab","t":2025.75,"v":22.4},
      {"s":"3ab","t":2026,"v":0},{"s":"3ab","t":2026.25,"v":31},{"s":"3ab","t":2026.5,"v":23.6},{"s":"3ab","t":2026.75,"v":9.9}
    ]
  },
  "vconcat": [
    {
      "vconcat": [
        {
          "hconcat": [
            {
              "width": 666, "height": 478,
              "layer": [
                {"data": {"values": [{}]}, "mark": {"type": "rule", "color": "#a8a8a8", "strokeWidth": 3},
                 "encoding": {"y": {"datum": 0, "type": "quantitative", "scale": {"domain": [-40, 80], "nice": false, "zero": false},
                   "axis": {"orient": "left", "values": [-40, -20, 0, 20, 40, 60, 80], "tickSize": -28, "labels": false, "title": "Quarterly", "titleAngle": 0, "titleAlign": "left", "titleBaseline": "alphabetic", "titleX": 30, "titleY": 20, "titleFontSize": 22}}}},
                {"data": {"values": [{}]}, "mark": {"type": "rule", "color": "black", "strokeWidth": 3},
                 "encoding": {"x": {"datum": 2010.5, "type": "quantitative", "scale": {"domain": [2010.5, 2027.5], "nice": false, "zero": false},
                   "axis": {"orient": "bottom", "values": [2011,2011.25,2011.5,2011.75,2012,2012.25,2012.5,2012.75,2013,2013.25,2013.5,2013.75,2014,2014.25,2014.5,2014.75,2015,2015.25,2015.5,2015.75,2016,2016.25,2016.5,2016.75,2017,2017.25,2017.5,2017.75,2018,2018.25,2018.5,2018.75,2019,2019.25,2019.5,2019.75,2020,2020.25,2020.5,2020.75,2021,2021.25,2021.5,2021.75,2022,2022.25,2022.5,2022.75,2023,2023.25,2023.5,2023.75,2024,2024.25,2024.5,2024.75,2025,2025.25,2025.5,2025.75,2026,2026.25,2026.5,2026.75,2027], "tickSize": -15, "tickWidth": 2, "labels": false, "domain": false, "title": null}},
                   "x2": {"datum": 2011.8}, "y": {"datum": 80, "type": "quantitative", "axis": null}}},
                {"data": {"values": [{}]}, "mark": {"type": "rule", "color": "black", "strokeWidth": 3},
                 "encoding": {"x": {"datum": 2026.25, "type": "quantitative", "axis": null}, "x2": {"datum": 2027.5}, "y": {"datum": 80, "type": "quantitative", "axis": null}}},
                {"data": {"name": "a"}, "mark": {"type": "line", "strokeCap": "butt"},
                 "encoding": {
                   "x": {"field": "t", "type": "quantitative", "scale": {"domain": [2010.5, 2027.5], "nice": false, "zero": false},
                     "axis": {"orient": "bottom", "values": [2011,2012,2013,2014,2015,2016,2017,2018,2019,2020,2021,2022,2023,2024,2025,2026,2027], "tickSize": -25, "labelOffset": 19.6, "labelPadding": 37, "labelFontSize": 15.5, "labelExpr": "datum.value % 2 == 0 && datum.value < 2027 ? toString(datum.value) : ''", "title": null}},
                   "y": {"field": "v", "type": "quantitative", "scale": {"domain": [-40, 80], "nice": false, "zero": false},
                     "axis": {"orient": "right", "values": [-40, -20, 0, 20, 40, 60, 80], "tickSize": -26, "labelPadding": 43, "labelFontSize": 15, "title": "Net percentage", "titleAngle": 0, "titleAlign": "right", "titleBaseline": "alphabetic", "titleX": -2, "titleY": -7, "titleFontSize": 21.5}},
                   "color": {"field": "s", "type": "nominal", "scale": {"domain": ["1hg", "2hy"], "range": ["#000000", "#cc0000"]},
                     "legend": {"orient": "none", "legendX": 37.4, "legendY": 32, "title": null, "labelExpr": "{'1hg':'High-grade corporate bonds','2hy':'High-yield corporate bonds +','1eq':'Equities','2cm':'CMBS +','3cm':'CMBS +','1ag':'Agency RMBS','2na':'Non-agency RMBS +','1ab':'Consumer ABS +','3ab':'Consumer ABS +'}[datum.label]"}},
                   "strokeDash": {"field": "s", "type": "nominal", "scale": {"domain": ["1hg", "2hy"], "range": [[1, 0], [16, 6, 4, 6]]},
                     "legend": {"orient": "none", "legendX": 37.4, "legendY": 32, "title": null, "labelExpr": "{'1hg':'High-grade corporate bonds','2hy':'High-yield corporate bonds +','1eq':'Equities','2cm':'CMBS +','3cm':'CMBS +','1ag':'Agency RMBS','2na':'Non-agency RMBS +','1ab':'Consumer ABS +','3ab':'Consumer ABS +'}[datum.label]"}},
                   "strokeWidth": {"field": "s", "type": "nominal", "scale": {"domain": ["1hg", "2hy"], "range": [2.5, 4]}, "legend": null}
                 }}
              ],
              "resolve": {"axis": {"x": "independent", "y": "independent"}}
            },
            {
              "width": 666, "height": 478,
              "layer": [
                {"data": {"values": [{}]}, "mark": {"type": "rule", "color": "#a8a8a8", "strokeWidth": 3},
                 "encoding": {"y": {"datum": 0, "type": "quantitative", "scale": {"domain": [-40, 80], "nice": false, "zero": false},
                   "axis": {"orient": "left", "values": [-40, -20, 0, 20, 40, 60, 80], "tickSize": -28, "labels": false, "title": "Quarterly", "titleAngle": 0, "titleAlign": "left", "titleBaseline": "alphabetic", "titleX": 30, "titleY": 20, "titleFontSize": 22}}}},
                {"data": {"values": [{}]}, "mark": {"type": "rule", "color": "black", "strokeWidth": 3},
                 "encoding": {"x": {"datum": 2010.5, "type": "quantitative", "scale": {"domain": [2010.5, 2027.5], "nice": false, "zero": false},
                   "axis": {"orient": "bottom", "values": [2011,2011.25,2011.5,2011.75,2012,2012.25,2012.5,2012.75,2013,2013.25,2013.5,2013.75,2014,2014.25,2014.5,2014.75,2015,2015.25,2015.5,2015.75,2016,2016.25,2016.5,2016.75,2017,2017.25,2017.5,2017.75,2018,2018.25,2018.5,2018.75,2019,2019.25,2019.5,2019.75,2020,2020.25,2020.5,2020.75,2021,2021.25,2021.5,2021.75,2022,2022.25,2022.5,2022.75,2023,2023.25,2023.5,2023.75,2024,2024.25,2024.5,2024.75,2025,2025.25,2025.5,2025.75,2026,2026.25,2026.5,2026.75,2027], "tickSize": -15, "tickWidth": 2, "labels": false, "domain": false, "title": null}},
                   "x2": {"datum": 2011.8}, "y": {"datum": 80, "type": "quantitative", "axis": null}}},
                {"data": {"values": [{}]}, "mark": {"type": "rule", "color": "black", "strokeWidth": 3},
                 "encoding": {"x": {"datum": 2026.25, "type": "quantitative", "axis": null}, "x2": {"datum": 2027.5}, "y": {"datum": 80, "type": "quantitative", "axis": null}}},
                {"data": {"name": "b"}, "mark": {"type": "line", "strokeCap": "butt"},
                 "encoding": {
                   "x": {"field": "t", "type": "quantitative", "scale": {"domain": [2010.5, 2027.5], "nice": false, "zero": false},
                     "axis": {"orient": "bottom", "values": [2011,2012,2013,2014,2015,2016,2017,2018,2019,2020,2021,2022,2023,2024,2025,2026,2027], "tickSize": -25, "labelOffset": 19.6, "labelPadding": 37, "labelFontSize": 15.5, "labelExpr": "datum.value % 2 == 0 && datum.value < 2027 ? toString(datum.value) : ''", "title": null}},
                   "y": {"field": "v", "type": "quantitative", "scale": {"domain": [-40, 80], "nice": false, "zero": false},
                     "axis": {"orient": "right", "values": [-40, -20, 0, 20, 40, 60, 80], "tickSize": -26, "labelPadding": 43, "labelFontSize": 15, "title": "Net percentage", "titleAngle": 0, "titleAlign": "right", "titleBaseline": "alphabetic", "titleX": -2, "titleY": -7, "titleFontSize": 21.5}},
                   "color": {"field": "s", "type": "nominal", "scale": {"domain": ["1eq", "2cm"], "range": ["#000000", "#cc0000"]},
                     "legend": {"orient": "none", "legendX": 37.4, "legendY": 32, "title": null, "labelExpr": "{'1hg':'High-grade corporate bonds','2hy':'High-yield corporate bonds +','1eq':'Equities','2cm':'CMBS +','3cm':'CMBS +','1ag':'Agency RMBS','2na':'Non-agency RMBS +','1ab':'Consumer ABS +','3ab':'Consumer ABS +'}[datum.label]"}},
                   "strokeDash": {"field": "s", "type": "nominal", "scale": {"domain": ["1eq", "2cm"], "range": [[1, 0], [16, 6, 4, 6]]},
                     "legend": {"orient": "none", "legendX": 37.4, "legendY": 32, "title": null, "labelExpr": "{'1hg':'High-grade corporate bonds','2hy':'High-yield corporate bonds +','1eq':'Equities','2cm':'CMBS +','3cm':'CMBS +','1ag':'Agency RMBS','2na':'Non-agency RMBS +','1ab':'Consumer ABS +','3ab':'Consumer ABS +'}[datum.label]"}},
                   "strokeWidth": {"field": "s", "type": "nominal", "scale": {"domain": ["1eq", "2cm"], "range": [2.5, 4]}, "legend": null}
                 }}
              ],
              "resolve": {"axis": {"x": "independent", "y": "independent"}}
            }
          ],
          "spacing": 88,
          "resolve": {"scale": {"color": "independent", "strokeDash": "independent", "strokeWidth": "independent"}}
        },
        {
          "hconcat": [
            {
              "width": 666, "height": 478,
              "layer": [
                {"data": {"values": [{}]}, "mark": {"type": "rule", "color": "#a8a8a8", "strokeWidth": 3},
                 "encoding": {"y": {"datum": 0, "type": "quantitative", "scale": {"domain": [-40, 80], "nice": false, "zero": false},
                   "axis": {"orient": "left", "values": [-40, -20, 0, 20, 40, 60, 80], "tickSize": -28, "labels": false, "title": "Quarterly", "titleAngle": 0, "titleAlign": "left", "titleBaseline": "alphabetic", "titleX": 30, "titleY": 20, "titleFontSize": 22}}}},
                {"data": {"values": [{}]}, "mark": {"type": "rule", "color": "black", "strokeWidth": 3},
                 "encoding": {"x": {"datum": 2010.5, "type": "quantitative", "scale": {"domain": [2010.5, 2027.5], "nice": false, "zero": false},
                   "axis": {"orient": "bottom", "values": [2011,2011.25,2011.5,2011.75,2012,2012.25,2012.5,2012.75,2013,2013.25,2013.5,2013.75,2014,2014.25,2014.5,2014.75,2015,2015.25,2015.5,2015.75,2016,2016.25,2016.5,2016.75,2017,2017.25,2017.5,2017.75,2018,2018.25,2018.5,2018.75,2019,2019.25,2019.5,2019.75,2020,2020.25,2020.5,2020.75,2021,2021.25,2021.5,2021.75,2022,2022.25,2022.5,2022.75,2023,2023.25,2023.5,2023.75,2024,2024.25,2024.5,2024.75,2025,2025.25,2025.5,2025.75,2026,2026.25,2026.5,2026.75,2027], "tickSize": -15, "tickWidth": 2, "labels": false, "domain": false, "title": null}},
                   "x2": {"datum": 2011.8}, "y": {"datum": 80, "type": "quantitative", "axis": null}}},
                {"data": {"values": [{}]}, "mark": {"type": "rule", "color": "black", "strokeWidth": 3},
                 "encoding": {"x": {"datum": 2026.25, "type": "quantitative", "axis": null}, "x2": {"datum": 2027.5}, "y": {"datum": 80, "type": "quantitative", "axis": null}}},
                {"data": {"name": "c"}, "mark": {"type": "line", "strokeCap": "butt"},
                 "encoding": {
                   "x": {"field": "t", "type": "quantitative", "scale": {"domain": [2010.5, 2027.5], "nice": false, "zero": false},
                     "axis": {"orient": "bottom", "values": [2011,2012,2013,2014,2015,2016,2017,2018,2019,2020,2021,2022,2023,2024,2025,2026,2027], "tickSize": -25, "labelOffset": 19.6, "labelPadding": 37, "labelFontSize": 15.5, "labelExpr": "datum.value % 2 == 0 && datum.value < 2027 ? toString(datum.value) : ''", "title": null}},
                   "y": {"field": "v", "type": "quantitative", "scale": {"domain": [-40, 80], "nice": false, "zero": false},
                     "axis": {"orient": "right", "values": [-40, -20, 0, 20, 40, 60, 80], "tickSize": -26, "labelPadding": 43, "labelFontSize": 15, "title": "Net percentage", "titleAngle": 0, "titleAlign": "right", "titleBaseline": "alphabetic", "titleX": -2, "titleY": -7, "titleFontSize": 21.5}},
                   "color": {"field": "s", "type": "nominal", "scale": {"domain": ["1ag", "2na"], "range": ["#000000", "#cc0000"]},
                     "legend": {"orient": "none", "legendX": 136, "legendY": 32, "title": null, "labelExpr": "{'1hg':'High-grade corporate bonds','2hy':'High-yield corporate bonds +','1eq':'Equities','2cm':'CMBS +','3cm':'CMBS +','1ag':'Agency RMBS','2na':'Non-agency RMBS +','1ab':'Consumer ABS +','3ab':'Consumer ABS +'}[datum.label]"}},
                   "strokeDash": {"field": "s", "type": "nominal", "scale": {"domain": ["1ag", "2na"], "range": [[1, 0], [16, 6, 4, 6]]},
                     "legend": {"orient": "none", "legendX": 136, "legendY": 32, "title": null, "labelExpr": "{'1hg':'High-grade corporate bonds','2hy':'High-yield corporate bonds +','1eq':'Equities','2cm':'CMBS +','3cm':'CMBS +','1ag':'Agency RMBS','2na':'Non-agency RMBS +','1ab':'Consumer ABS +','3ab':'Consumer ABS +'}[datum.label]"}},
                   "strokeWidth": {"field": "s", "type": "nominal", "scale": {"domain": ["1ag", "2na"], "range": [2.5, 4]}, "legend": null}
                 }}
              ],
              "resolve": {"axis": {"x": "independent", "y": "independent"}}
            },
            {
              "width": 666, "height": 478,
              "layer": [
                {"data": {"values": [{}]}, "mark": {"type": "rule", "color": "#a8a8a8", "strokeWidth": 3},
                 "encoding": {"y": {"datum": 0, "type": "quantitative", "scale": {"domain": [-40, 80], "nice": false, "zero": false},
                   "axis": {"orient": "left", "values": [-40, -20, 0, 20, 40, 60, 80], "tickSize": -28, "labels": false, "title": "Quarterly", "titleAngle": 0, "titleAlign": "left", "titleBaseline": "alphabetic", "titleX": 30, "titleY": 20, "titleFontSize": 22}}}},
                {"data": {"values": [{}]}, "mark": {"type": "rule", "color": "black", "strokeWidth": 3},
                 "encoding": {"x": {"datum": 2010.5, "type": "quantitative", "scale": {"domain": [2010.5, 2027.5], "nice": false, "zero": false},
                   "axis": {"orient": "bottom", "values": [2011,2011.25,2011.5,2011.75,2012,2012.25,2012.5,2012.75,2013,2013.25,2013.5,2013.75,2014,2014.25,2014.5,2014.75,2015,2015.25,2015.5,2015.75,2016,2016.25,2016.5,2016.75,2017,2017.25,2017.5,2017.75,2018,2018.25,2018.5,2018.75,2019,2019.25,2019.5,2019.75,2020,2020.25,2020.5,2020.75,2021,2021.25,2021.5,2021.75,2022,2022.25,2022.5,2022.75,2023,2023.25,2023.5,2023.75,2024,2024.25,2024.5,2024.75,2025,2025.25,2025.5,2025.75,2026,2026.25,2026.5,2026.75,2027], "tickSize": -15, "tickWidth": 2, "labels": false, "domain": false, "title": null}},
                   "x2": {"datum": 2011.8}, "y": {"datum": 80, "type": "quantitative", "axis": null}}},
                {"data": {"values": [{}]}, "mark": {"type": "rule", "color": "black", "strokeWidth": 3},
                 "encoding": {"x": {"datum": 2026.25, "type": "quantitative", "axis": null}, "x2": {"datum": 2027.5}, "y": {"datum": 80, "type": "quantitative", "axis": null}}},
                {"data": {"name": "d"}, "mark": {"type": "line", "strokeCap": "butt", "strokeWidth": 2.5},
                 "encoding": {
                   "x": {"field": "t", "type": "quantitative", "scale": {"domain": [2010.5, 2027.5], "nice": false, "zero": false},
                     "axis": {"orient": "bottom", "values": [2011,2012,2013,2014,2015,2016,2017,2018,2019,2020,2021,2022,2023,2024,2025,2026,2027], "tickSize": -25, "labelOffset": 19.6, "labelPadding": 37, "labelFontSize": 15.5, "labelExpr": "datum.value % 2 == 0 && datum.value < 2027 ? toString(datum.value) : ''", "title": null}},
                   "y": {"field": "v", "type": "quantitative", "scale": {"domain": [-40, 80], "nice": false, "zero": false},
                     "axis": {"orient": "right", "values": [-40, -20, 0, 20, 40, 60, 80], "tickSize": -26, "labelPadding": 43, "labelFontSize": 15, "title": "Net percentage", "titleAngle": 0, "titleAlign": "right", "titleBaseline": "alphabetic", "titleX": -2, "titleY": -7, "titleFontSize": 21.5}},
                   "color": {"field": "s", "type": "nominal", "scale": {"domain": ["1ab"], "range": ["#000000"]},
                     "legend": {"orient": "none", "legendX": 37.4, "legendY": 32, "title": null, "labelExpr": "{'1hg':'High-grade corporate bonds','2hy':'High-yield corporate bonds +','1eq':'Equities','2cm':'CMBS +','3cm':'CMBS +','1ag':'Agency RMBS','2na':'Non-agency RMBS +','1ab':'Consumer ABS +','3ab':'Consumer ABS +'}[datum.label]"}}
                 }}
              ],
              "resolve": {"axis": {"x": "independent", "y": "independent"}}
            }
          ],
          "spacing": 88,
          "resolve": {"scale": {"color": "independent", "strokeDash": "independent", "strokeWidth": "independent"}}
        }
      ],
      "spacing": 55,
      "resolve": {"scale": {"color": "independent", "strokeDash": "independent", "strokeWidth": "independent"}}
    },
    {
      "vconcat": [
        {
          "title": {"text": "Respondents reporting an improvement in liquidity and functioning in the underlying markets for the following:", "fontSize": 22.2, "fontWeight": "bold", "anchor": "middle", "offset": 22, "dx": -10, "color": "black"},
          "hconcat": [
            {
              "width": 666, "height": 517,
              "layer": [
                {"data": {"values": [{}]}, "mark": {"type": "rule", "color": "#a8a8a8", "strokeWidth": 3},
                 "encoding": {"y": {"datum": 0, "type": "quantitative", "scale": {"domain": [-100, 80], "nice": false, "zero": false},
                   "axis": {"orient": "left", "values": [-100, -80, -60, -40, -20, 0, 20, 40, 60, 80], "tickSize": -28, "labels": false, "title": "Quarterly", "titleAngle": 0, "titleAlign": "left", "titleBaseline": "alphabetic", "titleX": 30, "titleY": 19, "titleFontSize": 22}}}},
                {"data": {"values": [{}]}, "mark": {"type": "rule", "color": "black", "strokeWidth": 3},
                 "encoding": {"x": {"datum": 2010.5, "type": "quantitative", "scale": {"domain": [2010.5, 2027.5], "nice": false, "zero": false},
                   "axis": {"orient": "bottom", "values": [2011,2011.25,2011.5,2011.75,2012,2012.25,2012.5,2012.75,2013,2013.25,2013.5,2013.75,2014,2014.25,2014.5,2014.75,2015,2015.25,2015.5,2015.75,2016,2016.25,2016.5,2016.75,2017,2017.25,2017.5,2017.75,2018,2018.25,2018.5,2018.75,2019,2019.25,2019.5,2019.75,2020,2020.25,2020.5,2020.75,2021,2021.25,2021.5,2021.75,2022,2022.25,2022.5,2022.75,2023,2023.25,2023.5,2023.75,2024,2024.25,2024.5,2024.75,2025,2025.25,2025.5,2025.75,2026,2026.25,2026.5,2026.75,2027], "tickSize": -15, "tickWidth": 2, "labels": false, "domain": false, "title": null}},
                   "x2": {"datum": 2011.85}, "y": {"datum": 80, "type": "quantitative", "axis": null}}},
                {"data": {"values": [{}]}, "mark": {"type": "rule", "color": "black", "strokeWidth": 3},
                 "encoding": {"x": {"datum": 2026.15, "type": "quantitative", "axis": null}, "x2": {"datum": 2027.5}, "y": {"datum": 80, "type": "quantitative", "axis": null}}},
                {"data": {"name": "e"}, "mark": {"type": "line", "strokeCap": "butt"},
                 "encoding": {
                   "x": {"field": "t", "type": "quantitative", "scale": {"domain": [2010.5, 2027.5], "nice": false, "zero": false},
                     "axis": {"orient": "bottom", "values": [2011,2012,2013,2014,2015,2016,2017,2018,2019,2020,2021,2022,2023,2024,2025,2026,2027], "tickSize": -25, "labelOffset": 19.6, "labelPadding": 37, "labelFontSize": 15.5, "labelExpr": "datum.value % 2 == 0 && datum.value < 2027 ? toString(datum.value) : ''", "title": null}},
                   "y": {"field": "v", "type": "quantitative", "scale": {"domain": [-100, 80], "nice": false, "zero": false},
                     "axis": {"orient": "right", "values": [-100, -80, -60, -40, -20, 0, 20, 40, 60, 80], "tickSize": -26, "labelPadding": 43, "labelFontSize": 15, "title": "Net percentage", "titleAngle": 0, "titleAlign": "right", "titleBaseline": "alphabetic", "titleX": -2, "titleY": -7, "titleFontSize": 21.5}},
                   "color": {"field": "s", "type": "nominal", "scale": {"domain": ["1hg", "2hy", "3cm"], "range": ["#000000", "#cc0000", "#0000ff"]},
                     "legend": {"orient": "none", "legendX": 37.4, "legendY": 32, "title": null, "labelExpr": "{'1hg':'High-grade corporate bonds','2hy':'High-yield corporate bonds +','1eq':'Equities','2cm':'CMBS +','3cm':'CMBS +','1ag':'Agency RMBS','2na':'Non-agency RMBS +','1ab':'Consumer ABS +','3ab':'Consumer ABS +'}[datum.label]"}},
                   "strokeDash": {"field": "s", "type": "nominal", "scale": {"domain": ["1hg", "2hy", "3cm"], "range": [[1, 0], [16, 6, 4, 6], [12, 8]]},
                     "legend": {"orient": "none", "legendX": 37.4, "legendY": 32, "title": null, "labelExpr": "{'1hg':'High-grade corporate bonds','2hy':'High-yield corporate bonds +','1eq':'Equities','2cm':'CMBS +','3cm':'CMBS +','1ag':'Agency RMBS','2na':'Non-agency RMBS +','1ab':'Consumer ABS +','3ab':'Consumer ABS +'}[datum.label]"}},
                   "strokeWidth": {"field": "s", "type": "nominal", "scale": {"domain": ["1hg", "2hy", "3cm"], "range": [2.5, 4, 4.5]}, "legend": null}
                 }}
              ],
              "resolve": {"axis": {"x": "independent", "y": "independent"}}
            },
            {
              "width": 666, "height": 517,
              "layer": [
                {"data": {"values": [{}]}, "mark": {"type": "rule", "color": "#a8a8a8", "strokeWidth": 3},
                 "encoding": {"y": {"datum": 0, "type": "quantitative", "scale": {"domain": [-100, 80], "nice": false, "zero": false},
                   "axis": {"orient": "left", "values": [-100, -80, -60, -40, -20, 0, 20, 40, 60, 80], "tickSize": -28, "labels": false, "title": "Quarterly", "titleAngle": 0, "titleAlign": "left", "titleBaseline": "alphabetic", "titleX": 30, "titleY": 19, "titleFontSize": 22}}}},
                {"data": {"values": [{}]}, "mark": {"type": "rule", "color": "black", "strokeWidth": 3},
                 "encoding": {"x": {"datum": 2010.5, "type": "quantitative", "scale": {"domain": [2010.5, 2027.5], "nice": false, "zero": false},
                   "axis": {"orient": "bottom", "values": [2011,2011.25,2011.5,2011.75,2012,2012.25,2012.5,2012.75,2013,2013.25,2013.5,2013.75,2014,2014.25,2014.5,2014.75,2015,2015.25,2015.5,2015.75,2016,2016.25,2016.5,2016.75,2017,2017.25,2017.5,2017.75,2018,2018.25,2018.5,2018.75,2019,2019.25,2019.5,2019.75,2020,2020.25,2020.5,2020.75,2021,2021.25,2021.5,2021.75,2022,2022.25,2022.5,2022.75,2023,2023.25,2023.5,2023.75,2024,2024.25,2024.5,2024.75,2025,2025.25,2025.5,2025.75,2026,2026.25,2026.5,2026.75,2027], "tickSize": -15, "tickWidth": 2, "labels": false, "domain": false, "title": null}},
                   "x2": {"datum": 2011.85}, "y": {"datum": 80, "type": "quantitative", "axis": null}}},
                {"data": {"values": [{}]}, "mark": {"type": "rule", "color": "black", "strokeWidth": 3},
                 "encoding": {"x": {"datum": 2026.15, "type": "quantitative", "axis": null}, "x2": {"datum": 2027.5}, "y": {"datum": 80, "type": "quantitative", "axis": null}}},
                {"data": {"name": "f"}, "mark": {"type": "line", "strokeCap": "butt"},
                 "encoding": {
                   "x": {"field": "t", "type": "quantitative", "scale": {"domain": [2010.5, 2027.5], "nice": false, "zero": false},
                     "axis": {"orient": "bottom", "values": [2011,2012,2013,2014,2015,2016,2017,2018,2019,2020,2021,2022,2023,2024,2025,2026,2027], "tickSize": -25, "labelOffset": 19.6, "labelPadding": 37, "labelFontSize": 15.5, "labelExpr": "datum.value % 2 == 0 && datum.value < 2027 ? toString(datum.value) : ''", "title": null}},
                   "y": {"field": "v", "type": "quantitative", "scale": {"domain": [-100, 80], "nice": false, "zero": false},
                     "axis": {"orient": "right", "values": [-100, -80, -60, -40, -20, 0, 20, 40, 60, 80], "tickSize": -26, "labelPadding": 43, "labelFontSize": 15, "title": "Net percentage", "titleAngle": 0, "titleAlign": "right", "titleBaseline": "alphabetic", "titleX": -2, "titleY": -7, "titleFontSize": 21.5}},
                   "color": {"field": "s", "type": "nominal", "scale": {"domain": ["1ag", "2na", "3ab"], "range": ["#000000", "#cc0000", "#0000ff"]},
                     "legend": {"orient": "none", "legendX": 37.4, "legendY": 32, "title": null, "labelExpr": "{'1hg':'High-grade corporate bonds','2hy':'High-yield corporate bonds +','1eq':'Equities','2cm':'CMBS +','3cm':'CMBS +','1ag':'Agency RMBS','2na':'Non-agency RMBS +','1ab':'Consumer ABS +','3ab':'Consumer ABS +'}[datum.label]"}},
                   "strokeDash": {"field": "s", "type": "nominal", "scale": {"domain": ["1ag", "2na", "3ab"], "range": [[1, 0], [16, 6, 4, 6], [12, 8]]},
                     "legend": {"orient": "none", "legendX": 37.4, "legendY": 32, "title": null, "labelExpr": "{'1hg':'High-grade corporate bonds','2hy':'High-yield corporate bonds +','1eq':'Equities','2cm':'CMBS +','3cm':'CMBS +','1ag':'Agency RMBS','2na':'Non-agency RMBS +','1ab':'Consumer ABS +','3ab':'Consumer ABS +'}[datum.label]"}},
                   "strokeWidth": {"field": "s", "type": "nominal", "scale": {"domain": ["1ag", "2na", "3ab"], "range": [2.5, 4, 4.5]}, "legend": null}
                 }}
              ],
              "resolve": {"axis": {"x": "independent", "y": "independent"}}
            }
          ],
          "spacing": 80,
          "resolve": {"scale": {"color": "independent", "strokeDash": "independent", "strokeWidth": "independent"}}
        }
      ],
      "title": {
        "text": [
          "Note: CMBS is commercial mortgage-backed securities; RMBS is residential mortgage-backed securities; ABS is asset-backed securities.",
          "+ The question was added to the survey in September 2011.",
          "Source:\u00a0 Federal Reserve Board, Senior Credit Officer Opinion Survey on Dealer Financing Terms."
        ],
        "orient": "bottom", "anchor": "start", "align": "left", "fontSize": 22.3, "fontWeight": "normal", "lineHeight": 27, "offset": 93, "dx": 6, "color": "black"
      },
      "resolve": {"scale": {"color": "independent", "strokeDash": "independent", "strokeWidth": "independent"}}
    }
  ],
  "spacing": 86,
  "resolve": {"scale": {"color": "independent", "strokeDash": "independent", "strokeWidth": "independent"}},
  "config": {
    "font": "Liberation Sans",
    "view": {"stroke": null},
    "axis": {
      "grid": false, "domainColor": "black", "domainWidth": 3, "tickColor": "black", "tickWidth": 3,
      "labelColor": "black", "titleColor": "black", "titleFontWeight": "normal", "labelFlush": false, "labelOverlap": false, "labelBound": false
    },
    "legend": {
      "symbolType": "M-1.4,0H1.4", "symbolSize": 484, "symbolStrokeWidth": 3, "labelFontSize": 16.5,
      "labelOffset": 13, "rowPadding": 0.5, "padding": 0, "labelColor": "black", "labelLimit": 400
    }
  }
}
